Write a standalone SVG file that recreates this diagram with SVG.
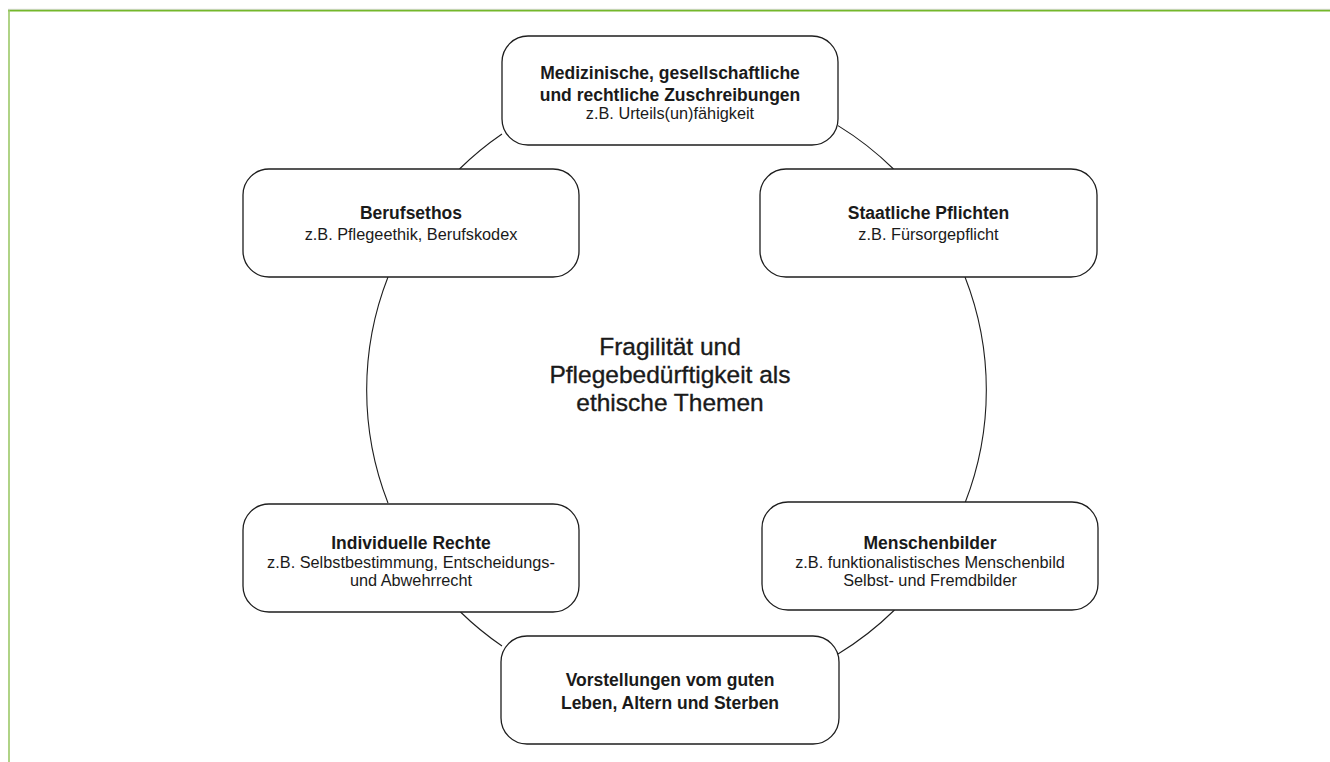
<svg xmlns="http://www.w3.org/2000/svg" width="1330" height="762" viewBox="0 0 1330 762">
  <style>
    .box { fill: #ffffff; stroke: #1e1e1e; stroke-width: 1.3; }
    .conn { fill: none; stroke: #1e1e1e; stroke-width: 1.1; }
    text { font-family: "Liberation Sans", Arial, sans-serif; fill: #1a1a1a; text-anchor: middle; }
    .t { font-size: 17.5px; font-weight: bold; }
    .s { font-size: 16.3px; }
    .c { font-size: 24.5px; stroke: #1a1a1a; stroke-width: 0.35; }
  </style>
  <rect x="0" y="0" width="1330" height="762" fill="#ffffff"/>
  <g id="frame">
    <line x1="8" y1="9.3" x2="1330" y2="9.3" stroke="#d8d8d8" stroke-width="1"/>
    <line x1="8" y1="10.6" x2="1330" y2="10.6" stroke="#74b72b" stroke-width="1.6"/>
    <line x1="9" y1="10" x2="9" y2="762" stroke="#9cc868" stroke-width="1.6"/>
  </g>
  <g id="connectors">
    <path class="conn" d="M459.5,169 A310,310 0 0 1 502,134"/>
    <path class="conn" d="M838,125.6 A310,310 0 0 1 893.5,169"/>
    <path class="conn" d="M965,277 A310,310 0 0 1 965,503"/>
    <path class="conn" d="M894.5,610 A310,310 0 0 1 838,654"/>
    <path class="conn" d="M502,646 A310,310 0 0 1 460.5,612"/>
    <path class="conn" d="M388,503 A310,310 0 0 1 388,277"/>
  </g>
  <g id="center">
    <text class="c" x="670" y="355">Fragilität und</text>
    <text class="c" x="670" y="383">Pflegebedürftigkeit als</text>
    <text class="c" x="670" y="411">ethische Themen</text>
  </g>
  <g id="node-zuschreibungen">
    <rect class="box" x="502" y="36" width="336" height="109" rx="26"/>
    <text class="t" x="670" y="79">Medizinische, gesellschaftliche</text>
    <text class="t" x="670" y="100.5">und rechtliche Zuschreibungen</text>
    <text class="s" x="670" y="119">z.B. Urteils(un)fähigkeit</text>
  </g>
  <g id="node-berufsethos">
    <rect class="box" x="243" y="169" width="336" height="108" rx="26"/>
    <text class="t" x="411" y="219">Berufsethos</text>
    <text class="s" x="411" y="239.5">z.B. Pflegeethik, Berufskodex</text>
  </g>
  <g id="node-pflichten">
    <rect class="box" x="760" y="169" width="337" height="108" rx="26"/>
    <text class="t" x="928.5" y="219">Staatliche Pflichten</text>
    <text class="s" x="928.5" y="239.5">z.B. Fürsorgepflicht</text>
  </g>
  <g id="node-rechte">
    <rect class="box" x="243" y="504" width="336" height="108" rx="26"/>
    <text class="t" x="411" y="549">Individuelle Rechte</text>
    <text class="s" x="411" y="567.5">z.B. Selbstbestimmung, Entscheidungs-</text>
    <text class="s" x="411" y="586">und Abwehrrecht</text>
  </g>
  <g id="node-menschenbilder">
    <rect class="box" x="762" y="502" width="336" height="108" rx="26"/>
    <text class="t" x="930" y="549">Menschenbilder</text>
    <text class="s" x="930" y="567.5">z.B. funktionalistisches Menschenbild</text>
    <text class="s" x="930" y="586">Selbst- und Fremdbilder</text>
  </g>
  <g id="node-vorstellungen">
    <rect class="box" x="501" y="636" width="338" height="108" rx="26"/>
    <text class="t" x="670" y="685.5">Vorstellungen vom guten</text>
    <text class="t" x="670" y="708.5">Leben, Altern und Sterben</text>
  </g>
</svg>
